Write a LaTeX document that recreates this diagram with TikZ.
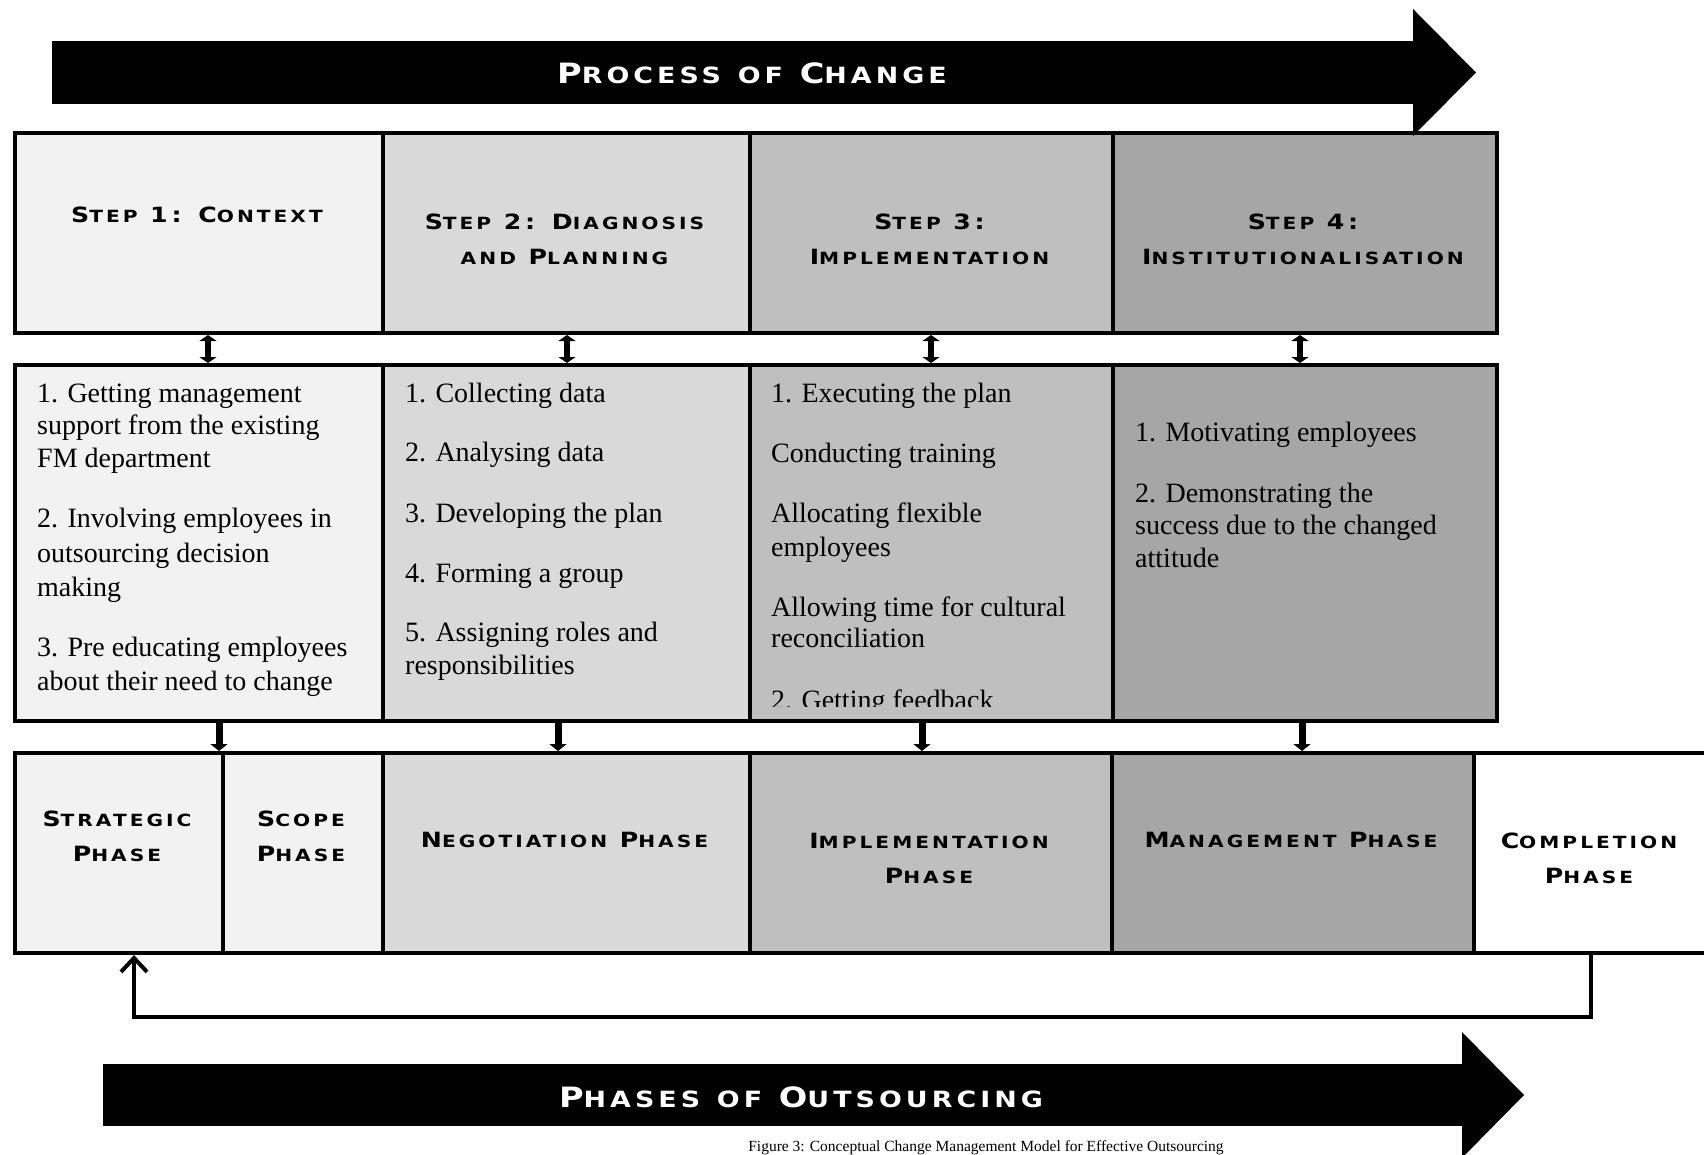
\documentclass[tikz,border=0pt]{standalone}
\usepackage{fontspec}
\setmainfont{Liberation Serif}
\newfontfamily\hdfont{DejaVu Sans}[FakeStretch=1.2,LetterSpace=18]
\usetikzlibrary{arrows.meta}
\makeatletter
\newcommand\smc[1]{{\fontsize{\strip@pt\dimexpr0.8\dimexpr\f@size pt\relax\relax}{0}\selectfont #1}}
\makeatother
\definecolor{gA}{HTML}{F2F2F2}
\definecolor{gB}{HTML}{D9D9D9}
\definecolor{gC}{HTML}{BFBFBF}
\definecolor{gD}{HTML}{A6A6A6}
\tikzset{
  box/.style={draw=black, line width=4pt, inner sep=0pt, anchor=north west},
  hd/.style={font=\hdfont\bfseries\fontsize{21}{35}\selectfont, align=center, inner sep=0pt},
  bigtxt/.style={font=\hdfont\bfseries\fontsize{28}{30}\selectfont, text=white, inner sep=0pt},
  body/.style={font=\fontsize{28}{33}\selectfont, anchor=base west, inner sep=0pt},
  dbl/.style={line width=6pt, {Triangle[length=6pt,width=17pt]}-{Triangle[length=6pt,width=17pt]}},
  down/.style={line width=7pt, -{Triangle[length=7pt,width=17pt]}},
  fb/.style={line width=4pt, -{Straight Barb[length=14pt,width=26pt]}},
}
\begin{document}
\begin{tikzpicture}[x=1pt,y=-1pt]
\useasboundingbox (0,0) rectangle (1704,1155);
\clip (0,0) rectangle (1704,1155);
% step boxes
\node[box, fill=gA, minimum width=368pt, minimum height=200pt] (s1) at (13,131) {};
\node[box, fill=gB, minimum width=367pt, minimum height=200pt] (s2) at (381,131) {};
\node[box, fill=gC, minimum width=363pt, minimum height=200pt] (s3) at (748,131) {};
\node[box, fill=gD, minimum width=384pt, minimum height=200pt] (s4) at (1111,131) {};
% content boxes
\node[box, fill=gA, minimum width=368pt, minimum height=356pt] (c1) at (13,363) {};
\node[box, fill=gB, minimum width=367pt, minimum height=356pt] (c2) at (381,363) {};
\node[box, fill=gC, minimum width=363pt, minimum height=356pt] (c3) at (748,363) {};
\node[box, fill=gD, minimum width=384pt, minimum height=356pt] (c4) at (1111,363) {};
% phase boxes
\node[box, fill=gA, minimum width=208pt, minimum height=200pt] (p1) at (13,751) {};
\node[box, fill=gA, minimum width=160pt, minimum height=200pt] (p2) at (221,751) {};
\node[box, fill=gB, minimum width=367pt, minimum height=200pt] (p3) at (381,751) {};
\node[box, fill=gC, minimum width=362pt, minimum height=200pt] (p4) at (748,751) {};
\node[box, fill=gD, minimum width=362pt, minimum height=200pt] (p5) at (1110,751) {};
\node[box, fill=white, minimum width=234pt, minimum height=200pt] (p6) at (1472,751) {};
% step headers
\node[hd] (t1) at (197,215) {S\smc{TEP} 1: C\smc{ONTEXT}};
\node[hd] (t2) at (564.5,239) {S\smc{TEP} 2: D\smc{IAGNOSIS}\\\smc{AND} P\smc{LANNING}};
\node[hd] (t3) at (929.5,239) {S\smc{TEP} 3:\\I\smc{MPLEMENTATION}};
\node[hd] (t4) at (1303,239) {S\smc{TEP} 4:\\I\smc{NSTITUTIONALISATION}};
% phase headers
\node[hd] (q1) at (117,836) {S\smc{TRATEGIC}\\P\smc{HASE}};
\node[hd] (q2) at (301,836) {S\smc{COPE}\\P\smc{HASE}};
\node[hd] (q3) at (564.5,840) {N\smc{EGOTIATION} P\smc{HASE}};
\node[hd] (q4) at (929,858) {I\smc{MPLEMENTATION}\\P\smc{HASE}};
\node[hd] (q5) at (1291,840) {M\smc{ANAGEMENT} P\smc{HASE}};
\node[hd] (q6) at (1589,858) {C\smc{OMPLETION}\\P\smc{HASE}};
% column 1
\node[body] (a1) at (37,402) {1. Getting management};
\node[body] (a2) at (37,434) {support from the existing};
\node[body] (a3) at (37,467) {FM department};
\node[body] (a4) at (37,527) {2. Involving employees in};
\node[body] (a5) at (37,562) {outsourcing decision};
\node[body] (a6) at (37,596) {making};
\node[body] (a7) at (37,656) {3. Pre educating employees};
\node[body] (a8) at (37,690) {about their need to change};
% column 2
\node[body] (b1) at (405,402) {1. Collecting data};
\node[body] (b2) at (405,461) {2. Analysing data};
\node[body] (b3) at (405,522) {3. Developing the plan};
\node[body] (b4) at (405,582) {4. Forming a group};
\node[body] (b5) at (405,641) {5. Assigning roles and};
\node[body] (b6) at (405,674) {responsibilities};
% column 3
\node[body] (d1) at (771,402) {1. Executing the plan};
\node[body] (d2) at (771,462) {Conducting training};
\node[body] (d3) at (771,522) {Allocating flexible};
\node[body] (d4) at (771,556) {employees};
\node[body] (d5) at (771,616) {Allowing time for cultural};
\node[body] (d6) at (771,647) {reconciliation};
\begin{scope}
\clip (750,365) rectangle (1109,706);
\node[body] (d7) at (771,709) {2. Getting feedback};
\end{scope}
% column 4
\node[body] (e1) at (1135,441) {1. Motivating employees};
\node[body] (e2) at (1135,502) {2. Demonstrating the};
\node[body] (e3) at (1135,534) {success due to the changed};
\node[body] (e4) at (1135,567) {attitude};
% connectors step <-> content
\draw[dbl] ([xshift=9pt]s1.south) -- ([xshift=9pt]c1.north);
\draw[dbl] ([xshift=0.5pt]s2.south) -- ([xshift=0.5pt]c2.north);
\draw[dbl] ([xshift=-0.5pt]s3.south) -- ([xshift=-0.5pt]c3.north);
\draw[dbl] ([xshift=-5pt]s4.south) -- ([xshift=-5pt]c4.north);
% connectors content -> phases
\draw[down] ([xshift=20pt]c1.south) -- ([xshift=20pt]c1.south |- p1.north);
\draw[down] ([xshift=-8.5pt]c2.south) -- ([xshift=-8.5pt]c2.south |- p3.north);
\draw[down] ([xshift=-9.5pt]c3.south) -- ([xshift=-9.5pt]c3.south |- p4.north);
\draw[down] ([xshift=-3pt]c4.south) -- ([xshift=-3pt]c4.south |- p5.north);
% feedback loop
\draw[fb] (p6.south) |- ([xshift=15pt,yshift=-62pt]p1.south) -- ([xshift=15pt]p1.south);
% top arrow
\fill[black] (52,41) rectangle (1413,104);
\fill[black] (1413,9) -- (1476,72.5) -- (1413,136) -- cycle;
\node[bigtxt] (top) at (752,73) {P\smc{ROCESS} \smc{OF} C\smc{HANGE}};
% bottom arrow
\fill[black] (103,1064) rectangle (1462,1126);
\fill[black] (1462,1032) -- (1524,1095) -- (1462,1158) -- cycle;
\node[bigtxt] (bot) at (801,1097) {P\smc{HASES} \smc{OF} O\smc{UTSOURCING}};
% caption
\node[font=\fontsize{15.5}{18}\selectfont, anchor=base, inner sep=0pt] (cap) at (986,1151) {Figure 3: Conceptual Change Management Model for Effective Outsourcing};
\end{tikzpicture}
\end{document}
